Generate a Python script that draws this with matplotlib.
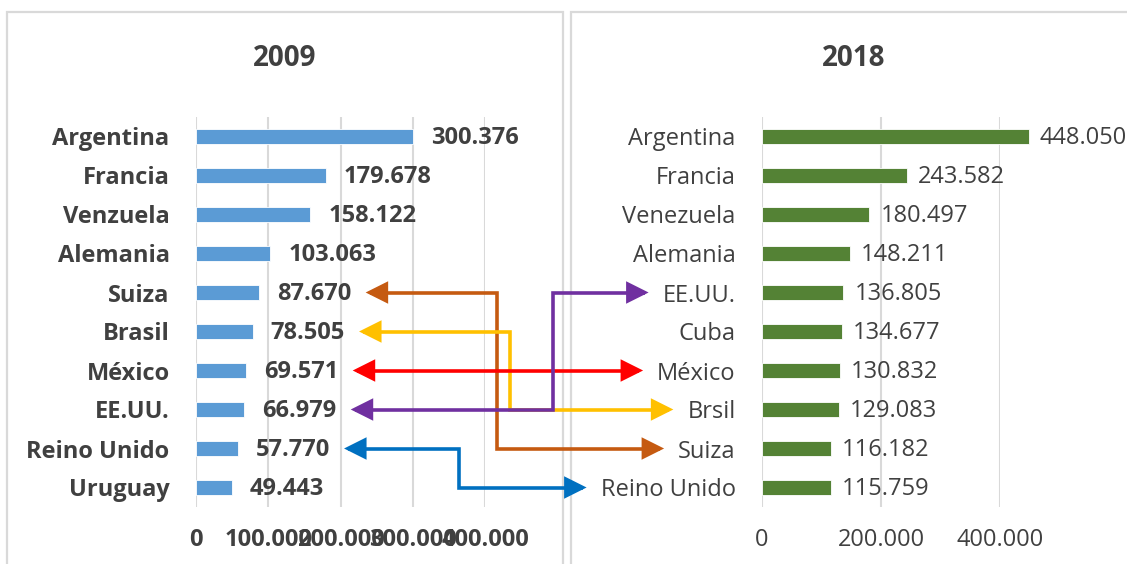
import numpy as np
import matplotlib
matplotlib.use("Agg")
from matplotlib import pyplot as plt
from matplotlib.patches import FancyArrowPatch, Rectangle
from matplotlib.path import Path

plt.rcParams['font.family'] = ['Open Sans', 'DejaVu Sans']

# data
countries_2009 = ['Argentina', 'Francia', 'Venzuela', 'Alemania', 'Suiza',
                  'Brasil', 'México', 'EE.UU.', 'Reino Unido', 'Uruguay']
values_2009 = [300376, 179678, 158122, 103063, 87670, 78505, 69571, 66979, 57770, 49443]
labels_2009 = ['300.376', '179.678', '158.122', '103.063', '87.670',
               '78.505', '69.571', '66.979', '57.770', '49.443']

countries_2018 = ['Argentina', 'Francia', 'Venezuela', 'Alemania', 'EE.UU.',
                  'Cuba', 'México', 'Brsil', 'Suiza', 'Reino Unido']
values_2018 = [448050, 243582, 180497, 148211, 136805, 134677, 130832, 129083, 116182, 115759]
labels_2018 = ['448.050', '243.582', '180.497', '148.211', '136.805',
               '134.677', '130.832', '129.083', '116.182', '115.759']

ticks_2009 = [0, 100000, 200000, 300000, 400000]
ticklabels_2009 = ['0', '100.000', '200.000', '300.000', '400.000']
ticks_2018 = [0, 200000, 400000]
ticklabels_2018 = ['0', '200.000', '400.000']

# (name in 2009, name in 2018, colour, elbow x as figure fraction)
links = [
    ('Suiza', 'Suiza', '#C55A11', 0.441),
    ('Brasil', 'Brsil', '#FFC000', 0.4525),
    ('México', 'México', '#FF0000', 0.45),
    ('EE.UU.', 'EE.UU.', '#7030A0', 0.4907),
    ('Reino Unido', 'Reino Unido', '#0070C0', 0.4073),
]

TXT = '#404040'
GRID = '#D9D9D9'
W, H = 1127, 564
FS = 17

fig = plt.figure(figsize=(W / 100, H / 100), dpi=100)

# panel frames
for x0, x1 in [(7, 563), (571, 1140)]:
    fig.add_artist(Rectangle((x0 / W, -0.05), (x1 - x0) / W, (H - 12) / H + 0.05,
                             transform=fig.transFigure, fill=False,
                             edgecolor=GRID, lw=1.6))


def panel(rect, names, vals, labs, ticks, ticklabs, color, weight, height,
          title, title_x, gap):
    ax = fig.add_axes(rect)
    y = np.arange(len(names))
    ax.barh(y, vals, height=height, color=color, edgecolor='white', lw=0.6, clip_on=False)
    ax.set_xlim(0, 400000)
    ax.set_ylim(len(names) - 0.5, -0.5)
    ax.set_yticks(y)
    ax.set_yticklabels(names, fontsize=FS, color=TXT, fontweight=weight)
    ax.set_xticks(ticks)
    ax.set_xticklabels(ticklabs, fontsize=FS, color=TXT, fontweight=weight)
    ax.tick_params(axis='y', length=0, pad=19)
    ax.tick_params(axis='x', length=0, pad=15)
    for s in ax.spines.values():
        s.set_visible(False)
    for t in ticks:
        ax.axvline(t, color=GRID, lw=1.5, zorder=0)
    texts = {}
    for yi, v, lab, n in zip(y, vals, labs, names):
        texts[n] = ax.annotate(lab, (v, yi), xytext=(gap, -1), textcoords='offset points',
                               ha='left', va='center', fontsize=FS, color=TXT,
                               fontweight=weight, annotation_clip=False)
    fig.text(title_x, 1 - 58 / H, title, ha='center', va='center', fontsize=20,
             fontweight='bold', color=TXT)
    return ax, texts


top, bot = 117, 507
ax1, vt1 = panel([196 / W, 1 - bot / H, (485 - 196) / W, (bot - top) / H],
                 countries_2009, values_2009, labels_2009, ticks_2009, ticklabels_2009,
                 '#5B9BD5', 'bold', 0.36, '2009', 285 / W, 13)
ax2, vt2 = panel([762 / W, 1 - bot / H, (1000 - 762) / W, (bot - top) / H],
                 countries_2018, values_2018, labels_2018, ticks_2018, ticklabels_2018,
                 '#548235', 'normal', 0.41, '2018', 854 / W, 8)

# connecting arrows, positioned from the rendered texts
fig.canvas.draw()
r = fig.canvas.get_renderer()
ylabs2 = {t.get_text(): t for t in ax2.get_yticklabels()}
inv = fig.transFigure.inverted()
for n1, n2, col, ex in links:
    i1 = countries_2009.index(n1)
    i2 = countries_2018.index(n2)
    yl = ax1.transData.transform((0, i1))[1]
    yr = ax2.transData.transform((0, i2))[1]
    xl = vt1[n1].get_window_extent(r).x1 + 14
    xr = ylabs2[n2].get_window_extent(r).x0 - 14
    exd = ex * W
    pts = inv.transform([(xl, yl), (exd, yl), (exd, yr), (xr, yr)])
    arr = FancyArrowPatch(path=Path(pts), transform=fig.transFigure,
                          arrowstyle='<|-|>,head_length=12,head_width=6',
                          mutation_scale=1, color=col, lw=2.6, joinstyle='miter',
                          capstyle='butt')
    fig.add_artist(arr)

fig.savefig('out.png', dpi=100, facecolor='white')
